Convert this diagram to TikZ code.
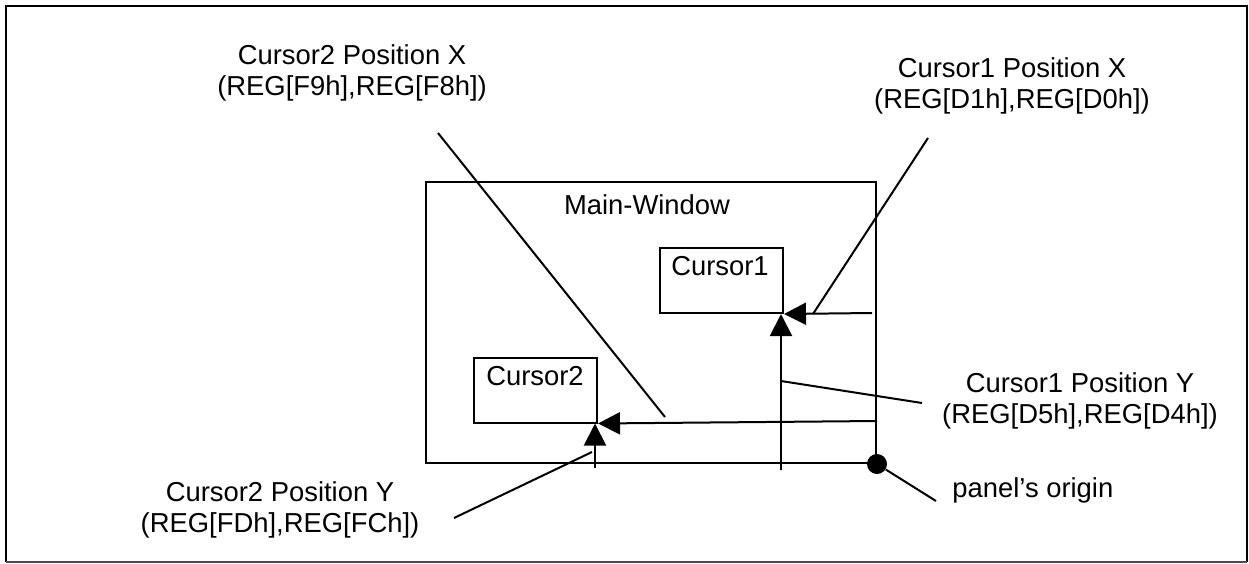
\documentclass[tikz,border=0pt]{standalone}
\usepackage{fontspec}
\setmainfont{Liberation Sans}
\usetikzlibrary{arrows.meta}
\usetikzlibrary{positioning}

\tikzset{
  lbl/.style={align=center, inner sep=0pt, font=\fontsize{13.7pt}{15.3pt}\selectfont},
  winbox/.style={draw, line width=1pt, inner sep=0pt},
  ptr/.style={-{Triangle[length=11pt,width=11pt]}, line width=1pt},
  lead/.style={line width=1pt},
}

\begin{document}
\begin{tikzpicture}[x=0.5pt,y=-0.5pt]
\useasboundingbox (0,0) rectangle (1249,563);
\draw[line width=1pt] (6,562) -- (6,6) -- (1247,6) -- (1247,562);
\draw[line width=1pt, black!70] (6,562) -- (1247,562);

% windows
\node[winbox, minimum width=225pt, minimum height=140.5pt] (main) at (651,322.5) {};
\node[winbox, minimum width=61.5pt, minimum height=32.5pt] (cur1) at (721.5,280.5) {};
\node[winbox, minimum width=61.5pt, minimum height=32.5pt] (cur2) at (535.5,390) {};
\node[lbl] (mainlbl) at (647,205) {Main-Window};
\node[lbl] (cur1lbl) at (720,266) {Cursor1};
\node[lbl] (cur2lbl) at (535,376) {Cursor2};
\node[circle, fill, inner sep=0pt, minimum size=10pt] (org) at (main.south east) {};

% position arrows
\coordinate (c1xs) at (872,313);
\coordinate (c1ys) at (781,470);
\coordinate (c2xs) at (877,421);
\coordinate (c2ys) at (595,468);
\draw[ptr] (c1xs) -- (cur1.south east);
\draw[ptr] (c1ys) -- (c1ys |- cur1.south east);
\draw[ptr] (c2xs) -- (cur2.south east);
\draw[ptr] (c2ys) -- (c2ys |- cur2.south east);

% labels
\node[lbl] (c2x) at (352,73) {Cursor2 Position X\\(REG[F9h],REG[F8h])};
\node[lbl] (c1x) at (1012,86) {Cursor1 Position X\\(REG[D1h],REG[D0h])};
\node[lbl] (c1y) at (1080,401) {Cursor1 Position Y\\(REG[D5h],REG[D4h])};
\node[lbl] (c2y) at (280,510) {Cursor2 Position Y\\(REG[FDh],REG[FCh])};
\node[lbl, anchor=west] (orglbl) at (952,490) {panel’s origin};

% leaders
\coordinate (c2xa) at (438,133);
\coordinate (c2xb) at (665,417);
\coordinate (c1xa) at (928,138);
\coordinate (c1xb) at (813,314);
\coordinate (c1ya) at (922,403);
\coordinate (c1yb) at (781,381);
\coordinate (c2ya) at (454,518);
\coordinate (c2yb) at (592,452);
\coordinate (orga) at (936,501);
\draw[lead] (c2xa) -- (c2xb);
\draw[lead] (c1xa) -- (c1xb);
\draw[lead] (c1ya) -- (c1yb);
\draw[lead] (c2ya) -- (c2yb);
\draw[lead] (orga) -- (org);
\end{tikzpicture}
\end{document}
